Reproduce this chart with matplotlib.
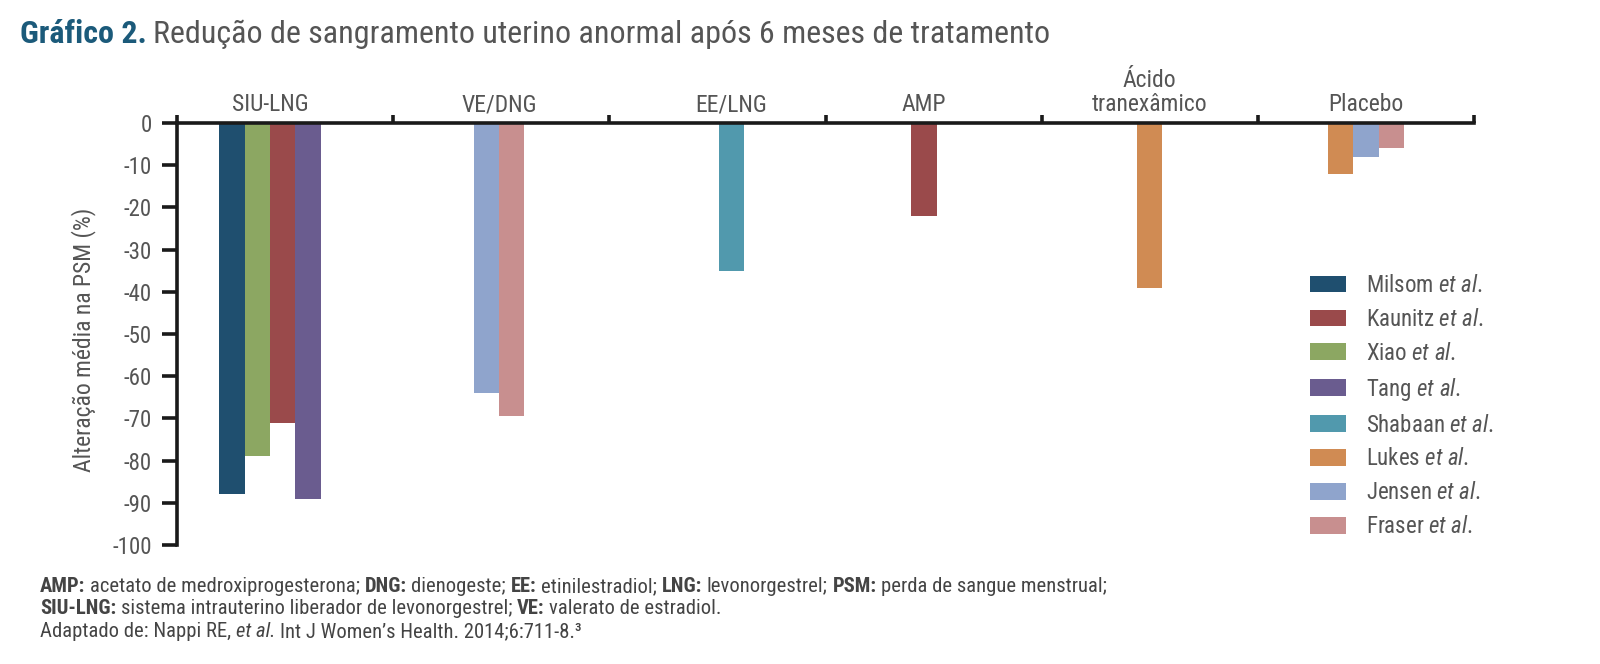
import matplotlib
matplotlib.use("Agg")
import matplotlib.pyplot as plt
from matplotlib.patches import Patch
from matplotlib import font_manager

names = {f.name for f in font_manager.fontManager.ttflist}
FONT = "Roboto Condensed" if "Roboto Condensed" in names else "Liberation Sans"
plt.rcParams["font.family"] = [FONT, "DejaVu Sans"]
plt.rcParams["mathtext.fontset"] = "custom"
plt.rcParams["mathtext.rm"] = FONT
plt.rcParams["mathtext.it"] = FONT + ":italic"
plt.rcParams["mathtext.bf"] = FONT + ":bold"

# ---------------- data ----------------
groups = ["SIU-LNG", "VE/DNG", "EE/LNG", "AMP", "Ácido\ntranexâmico", "Placebo"]

siu_studies = ["Milsom", "Xiao", "Kaunitz", "Tang"]
siu_values = [-88, -79, -71, -89]
vedng_studies = ["Jensen", "Fraser"]
vedng_values = [-64, -69.5]
eelng_studies = ["Shabaan"]
eelng_values = [-35]
amp_studies = ["Kaunitz"]
amp_values = [-22]
acido_studies = ["Lukes"]
acido_values = [-39]
placebo_studies = ["Lukes", "Jensen", "Fraser"]
placebo_values = [-12, -8, -6]

legend_order = ["Milsom", "Kaunitz", "Xiao", "Tang", "Shabaan", "Lukes", "Jensen", "Fraser"]
yticks = list(range(0, -101, -10))

colors = {
    "Milsom": "#1f4f6f",
    "Kaunitz": "#9a4a4b",
    "Xiao": "#8ca762",
    "Tang": "#6a5c8f",
    "Shabaan": "#5199ad",
    "Lukes": "#d08b53",
    "Jensen": "#8fa4cc",
    "Fraser": "#c88f8f",
}

group_data = [
    (siu_studies, siu_values),
    (vedng_studies, vedng_values),
    (eelng_studies, eelng_values),
    (amp_studies, amp_values),
    (acido_studies, acido_values),
    (placebo_studies, placebo_values),
]
# layout: horizontal shift of each bar cluster inside its group (group units)
group_shift = [-0.07, -0.01, 0.065, -0.045, 0.0, 0.0]

# ---------------- figure ----------------
W, H = 1600, 664
fig = plt.figure(figsize=(16, 6.64), dpi=100)
ax = fig.add_axes([177 / W, 1 - 545 / H, 1297 / W, 422 / H])

bw = 0.117
for gi, (studies, vals) in enumerate(group_data):
    n = len(studies)
    center = gi + 0.5 + group_shift[gi]
    for k, (s, v) in enumerate(zip(studies, vals)):
        x = center + (k - (n - 1) / 2) * bw
        ax.bar(x, v, width=bw, color=colors[s], linewidth=0)

ax.set_xlim(0, 6)
ax.set_ylim(-100, 0)

for side in ["bottom", "right"]:
    ax.spines[side].set_visible(False)
for side in ["top", "left"]:
    ax.spines[side].set_linewidth(2.6)
    ax.spines[side].set_color("#1a1a1a")

ax.xaxis.tick_top()
ax.set_xticks(range(7))
ax.set_xticklabels([])
ax.set_xticks([i + 0.5 + group_shift[i] for i in range(6)], minor=True)
ax.set_xticklabels(groups, minor=True, fontsize=17, color="#555555", linespacing=1.05)
ax.tick_params(axis="x", which="major", direction="out", length=6, width=2.6, color="#1a1a1a")
ax.tick_params(axis="x", which="minor", length=0, pad=5)

ax.set_yticks(yticks)
ax.set_yticklabels([str(t) for t in yticks], fontsize=16.5, color="#555555")
ax.tick_params(axis="y", direction="out", length=11, width=2.6, color="#1a1a1a", pad=7)

ax.set_ylabel("Alteração média na PSM (%)", fontsize=17, color="#555555")
ax.yaxis.set_label_coords(-0.0625, 0.486)

handles = [Patch(facecolor=colors[s], edgecolor="none") for s in legend_order]
labels = [s + r" $\mathit{et\ al}$." for s in legend_order]
leg = ax.legend(handles, labels, loc="upper left",
                bbox_to_anchor=((1310 - 177) / 1297, 1 - (274 - 123) / 422),
                frameon=False, fontsize=16.5, handlelength=1.55, handleheight=0.75,
                labelspacing=0.475, handletextpad=0.9, borderaxespad=0, borderpad=0)
for t in leg.get_texts():
    t.set_color("#555555")

fig.canvas.draw()
renderer = fig.canvas.get_renderer()


def text_width(s, **kw):
    t = fig.text(0, 0, s, **kw)
    w = t.get_window_extent(renderer).width
    t.remove()
    return w


def draw_runs(x_px, y_px, runs, size, color):
    """Draw consecutive text runs (text, weight, style) on one baseline."""
    sp = text_width("x x", fontsize=size) - text_width("xx", fontsize=size)
    x = x_px
    for s, weight, style in runs:
        core = s.strip(" ")
        lead = len(s) - len(s.lstrip(" "))
        trail = len(s) - len(s.rstrip(" "))
        x += lead * sp
        if core:
            t = fig.text(x / W, 1 - y_px / H, core, fontsize=size, fontweight=weight,
                         fontstyle=style, color=color, va="baseline", ha="left")
            x += t.get_window_extent(renderer).width
        x += trail * sp
    return x


# title
draw_runs(20, 43, [("Gráfico 2.", "bold", "normal")], 23, "#1b5a7a")
xe = text_width("Gráfico 2.", fontsize=23, fontweight="bold")
draw_runs(20 + xe + 6, 43,
          [("Redução de sangramento uterino anormal após 6 meses de tratamento", "normal", "normal")],
          23, "#555555")

# footnotes
fn_lines = [
    [("AMP:", "bold", "normal"), (" acetato de medroxiprogesterona; ", "normal", "normal"),
     ("DNG:", "bold", "normal"), (" dienogeste; ", "normal", "normal"),
     ("EE:", "bold", "normal"), (" etinilestradiol; ", "normal", "normal"),
     ("LNG:", "bold", "normal"), (" levonorgestrel; ", "normal", "normal"),
     ("PSM:", "bold", "normal"), (" perda de sangue menstrual;", "normal", "normal")],
    [("SIU-LNG:", "bold", "normal"), (" sistema intrauterino liberador de levonorgestrel; ", "normal", "normal"),
     ("VE:", "bold", "normal"), (" valerato de estradiol.", "normal", "normal")],
    [("Adaptado de: Nappi RE, ", "normal", "normal"), ("et al.", "normal", "italic"),
     (" Int J Women’s Health. 2014;6:711-8.³", "normal", "normal")],
]
for i, runs in enumerate(fn_lines):
    draw_runs(40, 592 + i * 22.5, runs, 14.9, "#444444")

fig.savefig("out.png", dpi=100)
